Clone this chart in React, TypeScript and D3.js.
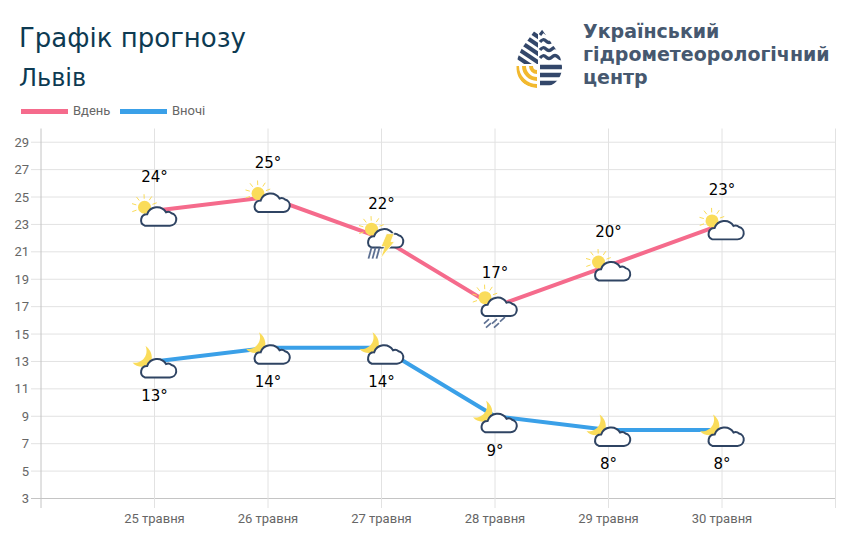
import React from 'react'
import * as d3 from 'd3'

const width = 851, height = 551

// chart data
const days = ['25 травня', '26 травня', '27 травня', '28 травня', '29 травня', '30 травня']
const dayTemps = [24, 25, 22, 17, 20, 23]
const nightTemps = [13, 14, 14, 9, 8, 8]
const dayIcons = ['cloud', 'cloud', 'storm', 'rain', 'cloud', 'cloud']
const yTicks = [3, 5, 7, 9, 11, 13, 15, 17, 19, 21, 23, 25, 27, 29]
const legendItems = ['Вдень', 'Вночі']
const logoLines = ['Український', 'гідрометеорологічний', 'центр']

const PINK = '#f56b8c', BLUE = '#3aa0e8', NAVY = '#2f4463', YELLOW = '#fadc5a'
const TICK = '#666', GRID = '#e2e2e2'
const HEAD = "'DejaVu Sans', sans-serif"

// one empty slot on both sides of the days
const xSlots = ['start', ...days, 'end']
const x = d3.scalePoint<string>().domain(xSlots).range([41, 835.5])
const y = d3.scaleLinear().domain([3, 30]).range([498.5, 128.5])

const line = d3.line<number>()
    .x((_, i) => x(days[i]) as number)
    .y(d => y(d))

const CLOUD = 'M6 19H30A6 6 0 0 0 31.5 7.2 5 5 0 0 0 26.2 6.2 10 10 0 0 0 8.2 8.2 5.6 5.6 0 0 0 6 19Z'

const Cloud = () => <path d={CLOUD} transform="scale(1.05)" fill="#fff" stroke={NAVY} strokeWidth={1.9} />

const Sun = ({ cx, cy }: { cx: number, cy: number }) => {
    const rays = d3.range(7).map(i => (-200 + i * 36) * Math.PI / 180)
    return (
        <g>
            <circle cx={cx} cy={cy} r={6.5} fill={YELLOW} />
            {rays.map((a, i) => (
                <line key={i} x1={cx + Math.cos(a) * 8.5} y1={cy + Math.sin(a) * 8.5}
                    x2={cx + Math.cos(a) * 13} y2={cy + Math.sin(a) * 13}
                    stroke={YELLOW} strokeWidth={1} />
            ))}
        </g>
    )
}

const Moon = () => (
    <path d="M-9 -15.5C-1 -10 0 2 -9 5C-14 6 -19 5 -22 1C-13 3 -5 -6 -9 -15.5Z" fill={YELLOW} />
)

const DayIcon = ({ kind, px, py }: { kind: string, px: number, py: number }) => {
    // taller icons sit higher on their point
    const dy = kind === 'cloud' ? -5 : -10.5
    return (
        <g transform={`translate(${px - 16},${py + dy})`}>
            <Sun cx={6} cy={1.5} />
            <Cloud />
            {kind === 'storm' && (
                <g>
                    {[3, 7, 11].map(d => (
                        <line key={d} x1={d + 3} y1={20} x2={d} y2={31} stroke="#5d7092" strokeWidth={1.8} />
                    ))}
                    <path d="M21 6H28.5L25.5 14H29L15 31L19 19H15.5Z" fill={YELLOW} stroke="#fff" strokeWidth={0.8} />
                </g>
            )}
            {kind === 'rain' && (
                <g stroke="#5d7092" strokeWidth={1.6}>
                    {[[5, 27], [13, 27], [21, 25], [7, 31], [15, 31]].map(([a, b]) => (
                        <line key={`${a}-${b}`} x1={a + 5} y1={b - 4} x2={a} y2={b + 0.5} />
                    ))}
                </g>
            )}
        </g>
    )
}

const Logo = () => {
    const dark = '#33476a'
    const drop = 'M538.7 25L555 48Q562 58 562 67C562 80 552 88 538.7 88C525 88 516.5 80 516.5 67Q516.5 58 522 48Z'
    return (
        <g fill="none">
            <clipPath id="drop"><path d={drop} /></clipPath>
            <g clipPath="url(#drop)">
                <clipPath id="dropLeft"><rect x={510} y={20} width={28} height={44} /></clipPath>
                <g clipPath="url(#dropLeft)">
                    {[0, 8.5, 17, 25.5, 34].map(d => (
                        <line key={d} x1={510} y1={18 + d} x2={540} y2={38 + d} stroke={dark} strokeWidth={4.2} />
                    ))}
                </g>
                {[42, 50, 58].map(d => (
                    <path key={d} d={`M540 ${d}q3 -4 6 -1t6 0t6 0t6 1`} stroke={dark} strokeWidth={3.2} />
                ))}
                <path d="M540 35l3 -4 4 3" stroke={dark} strokeWidth={3} />
                {[67, 75, 83].map(d => (
                    <line key={d} x1={540} y1={d} x2={565} y2={d} stroke={dark} strokeWidth={4.4} />
                ))}
                {[6, 13, 20].map(r => (
                    <path key={r} d={`M${537 - r} 66A${r} ${r} 0 0 0 537 ${66 + r}`} stroke="#f2b92f" strokeWidth={4} />
                ))}
            </g>
        </g>
    )
}

const App = () => {
    return (
        <svg width={width} height={height} style={{ position: 'absolute', left: 0, top: 0, background: '#fff' }}>
            <text x={19} y={47} fontFamily={HEAD} fontSize={26} fill="#0d3a52">Графік прогнозу</text>
            <text x={19} y={86} fontFamily={HEAD} fontSize={24} fill="#0d3a52">Львів</text>

            <Logo />
            {logoLines.map((t, i) => (
                <text key={t} x={583} y={37.5 + i * 23} fontFamily={HEAD} fontWeight={700} fontSize={19} fill="#46586f">{t}</text>
            ))}

            {legendItems.map((t, i) => (
                <g key={t} transform={`translate(${21 + i * 99},0)`}>
                    <rect x={0} y={109} width={47} height={5} fill={i === 0 ? PINK : BLUE} />
                    <text x={52} y={115} fontFamily="Roboto" fontSize={13} fill={TICK}>{t}</text>
                </g>
            ))}

            {/* grid */}
            {yTicks.map(t => (
                <g key={t}>
                    <line x1={31} x2={835.5} y1={y(t)} y2={y(t)} stroke={t === 3 ? '#c4c4c4' : GRID} />
                    <text x={29} y={y(t) + 4.5} textAnchor="end" fontFamily="Roboto" fontSize={13} fill={TICK}>{t}</text>
                </g>
            ))}
            {xSlots.map((s, i) => (
                <line key={s} x1={x(s)} x2={x(s)} y1={128.5} y2={508}
                    stroke={i === 0 ? '#c4c4c4' : GRID} />
            ))}
            {days.map(d => (
                <text key={d} x={x(d)} y={523} textAnchor="middle" fontFamily="Roboto" fontSize={13} fill={TICK}>{d}</text>
            ))}

            {/* lines */}
            <path d={line(dayTemps) as string} fill="none" stroke={PINK} strokeWidth={4} />
            <path d={line(nightTemps) as string} fill="none" stroke={BLUE} strokeWidth={4} />

            {/* icons and labels */}
            {days.map((d, i) => {
                const px = x(d) as number
                return (
                    <g key={d}>
                        <DayIcon kind={dayIcons[i]} px={px} py={y(dayTemps[i])} />
                        <text x={px} y={y(dayTemps[i]) - 29} textAnchor="middle" fontFamily={HEAD} fontSize={15} fill="#000">{dayTemps[i]}°</text>
                        <g transform={`translate(${px},${y(nightTemps[i])})`}>
                            <Moon />
                            <g transform="translate(-16,-4)"><Cloud /></g>
                        </g>
                        <text x={px} y={y(nightTemps[i]) + 39.5} textAnchor="middle" fontFamily={HEAD} fontSize={15} fill="#000">{nightTemps[i]}°</text>
                    </g>
                )
            })}
        </svg>
    )
}

export default App
